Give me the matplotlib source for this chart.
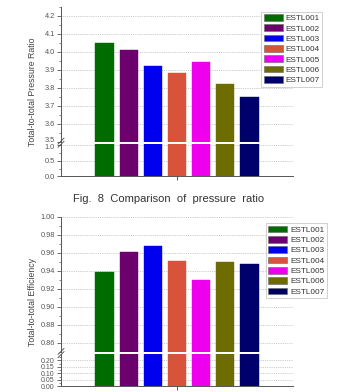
import matplotlib
matplotlib.use("Agg")
import matplotlib.pyplot as plt
import numpy as np
from matplotlib.lines import Line2D
from matplotlib.transforms import ScaledTranslation

plt.rcParams['font.family'] = ['Liberation Sans', 'DejaVu Sans']

# ---- data ----
designs = ["ESTL001", "ESTL002", "ESTL003", "ESTL004", "ESTL005", "ESTL006", "ESTL007"]
pressure_ratio = [4.05, 4.01, 3.92, 3.88, 3.94, 3.82, 3.75]
efficiency = [0.939, 0.961, 0.967, 0.951, 0.930, 0.950, 0.948]
bar_colors = ["#006c00", "#6c006c", "#0000ee", "#d8533b", "#ee00ee", "#6c6c00", "#00006c"]
caption = "Fig.  8  Comparison  of  pressure  ratio"
ylabel_top = "Total-to-total Pressure Ratio"
ylabel_bot = "Total-to-total Efficiency"

W, H = 341, 392
fig = plt.figure(figsize=(W / 100, H / 100), dpi=100)

def fx(px):
    return px / W

def fy(py):
    return 1 - py / H

x = np.arange(1, len(designs) + 1)
spine_c = "#555555"
tick_c = "#555555"
grid_c = "#bbbbbb"

def style_axis(ax, lo, hi, major, minor, fmt, bottom=False, labelsize=5.3):
    ax.set_xlim(-0.8, 8.8)
    ax.set_ylim(lo, hi)
    for s in ["top", "right"]:
        ax.spines[s].set_visible(False)
    ax.spines["left"].set_color(spine_c)
    ax.spines["left"].set_linewidth(0.7)
    if bottom:
        ax.spines["bottom"].set_color(spine_c)
        ax.spines["bottom"].set_linewidth(0.7)
        ax.set_xticks([4])
        ax.set_xticklabels([])
        ax.tick_params(axis="x", direction="out", length=3, width=0.7, color=spine_c)
    else:
        ax.spines["bottom"].set_visible(False)
        ax.set_xticks([])
    ax.set_yticks(major)
    ax.set_yticks(minor, minor=True)
    ax.set_yticklabels([fmt.format(v) for v in major])
    ax.tick_params(axis="y", which="major", direction="out", length=3, width=0.6,
                   color=tick_c, labelsize=labelsize, labelcolor="#555555", pad=1.5)
    ax.tick_params(axis="y", which="minor", direction="out", length=1.6, width=0.5,
                   color=tick_c)
    for v in major:
        ax.axhline(v, color=grid_c, lw=0.6, ls=(0, (1, 1.2)), zorder=0)
    ax.patch.set_alpha(0)

def break_mark(xpx, ypx):
    for dy in (-1.6, 1.6):
        fig.add_artist(Line2D([fx(xpx - 3), fx(xpx + 3)],
                              [fy(ypx + dy + 3), fy(ypx + dy - 3)],
                              color="#444444", lw=0.6))

def panel(values, top_px, bot_px, lo_top, hi_top, lo_top_px, lo_bot_px,
          lo_lims, maj_up, min_up, fmt_up, maj_lo, min_lo, fmt_lo, ylabel, leg_xy,
          nudge=False, lo_labelsize=5.3):
    left, right = 61, 293
    ax_up = fig.add_axes([fx(left), fy(bot_px), fx(right - left), (bot_px - top_px) / H])
    ax_lo = fig.add_axes([fx(left), fy(lo_bot_px), fx(right - left), (lo_bot_px - lo_top_px) / H])
    bars = ax_up.bar(x, values, width=0.75, color=bar_colors, edgecolor=bar_colors,
                     linewidth=0.3, zorder=2)
    ax_lo.bar(x, values, width=0.75, color=bar_colors, edgecolor=bar_colors,
              linewidth=0.3, zorder=2)
    style_axis(ax_up, lo_top, hi_top, maj_up, min_up, fmt_up)
    style_axis(ax_lo, lo_lims[0], lo_lims[1], maj_lo, min_lo, fmt_lo, bottom=True,
               labelsize=lo_labelsize)
    if nudge:
        # nudge the two labels at the break apart slightly
        lab_up = ax_up.get_yticklabels()[0]
        lab_up.set_transform(lab_up.get_transform() + ScaledTranslation(0, 1.5 / 72, fig.dpi_scale_trans))
        lab_lo = ax_lo.get_yticklabels()[-1]
        lab_lo.set_transform(lab_lo.get_transform() + ScaledTranslation(0, -1.2 / 72, fig.dpi_scale_trans))
    break_mark(left, (bot_px + lo_top_px) / 2)
    fig.text(fx(32.5), fy((top_px + lo_bot_px) / 2), ylabel, rotation=90,
             ha="center", va="center", fontsize=6.3, color="#444444")
    leg = fig.legend(bars, designs, loc="upper left",
                     bbox_to_anchor=(fx(leg_xy[0]), fy(leg_xy[1])),
                     bbox_transform=fig.transFigure, frameon=True, fancybox=False,
                     fontsize=5.9, handlelength=2.3, handleheight=0.85,
                     handletextpad=0.35, labelspacing=0.27, borderpad=0.3,
                     borderaxespad=0)
    leg.get_frame().set_edgecolor("#bbbbbb")
    leg.get_frame().set_linewidth(0.6)
    for t in leg.get_texts():
        t.set_color("#333333")
    for p in leg.get_patches():
        p.set_edgecolor("#666666")
        p.set_linewidth(0.4)
    return ax_up, ax_lo

# top panel: pressure ratio
panel(pressure_ratio, 6.7, 141.7, 3.5, 4.25, 143.7, 176.3, (0, 1.05),
      np.round(np.arange(3.5, 4.21, 0.1), 2), np.round(np.arange(3.55, 4.25, 0.1), 2), "{:.1f}",
      [0.0, 0.5, 1.0], [0.25, 0.75], "{:.1f}", ylabel_top, (261.3, 11.7), nudge=True)

# bottom panel: efficiency
panel(efficiency, 216.7, 351.7, 0.85, 1.00, 354.4, 386.3, (0, 0.245),
      np.round(np.arange(0.86, 1.001, 0.02), 2), np.round(np.arange(0.85, 1.0, 0.02), 3), "{:.2f}",
      [0.0, 0.05, 0.10, 0.15, 0.20], [0.025, 0.075, 0.125, 0.175, 0.225], "{:.2f}",
      ylabel_bot, (266, 223.3), lo_labelsize=5.0)

fig.text(fx(169), fy(199), caption, ha="center", va="center", fontsize=8.0,
         color="#333333")

fig.savefig("out.png", dpi=100)
